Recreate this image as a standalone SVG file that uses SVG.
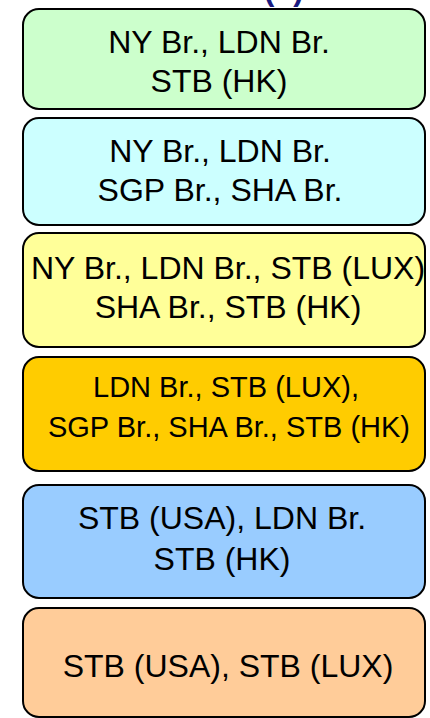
<svg xmlns="http://www.w3.org/2000/svg" width="430" height="718" viewBox="0 0 430 718">
  <style>
    .box { stroke: #000; stroke-width: 2; }
    .t { font-family: "Liberation Sans", Arial, sans-serif; font-size: 32px; fill: #000; text-anchor: middle; }
    .s { font-size: 29px; }
    .title { font-family: "Liberation Sans", Arial, sans-serif; font-size: 31px; font-weight: bold; fill: #1a1a80; }
  </style>
  <rect width="430" height="718" fill="#ffffff"/>
  <text class="title" x="264" y="0">(b)</text>
  <g id="node1">
    <rect class="box" x="23" y="9" width="402" height="100" rx="16" fill="#ccffcc"/>
    <text class="t" x="219" y="53">NY Br., LDN Br.</text>
    <text class="t" x="219" y="92">STB (HK)</text>
  </g>
  <g id="node2">
    <rect class="box" x="23" y="118" width="402" height="107" rx="16" fill="#ccffff"/>
    <text class="t" x="220" y="162">NY Br., LDN Br.</text>
    <text class="t" x="220" y="201">SGP Br., SHA Br.</text>
  </g>
  <g id="node3">
    <rect class="box" x="23" y="233" width="402" height="114" rx="16" fill="#ffff99"/>
    <text class="t" x="228" y="279">NY Br., LDN Br., STB (LUX)</text>
    <text class="t" x="228" y="318">SHA Br., STB (HK)</text>
  </g>
  <g id="node4">
    <rect class="box" x="23" y="357" width="402" height="114" rx="16" fill="#ffcc00"/>
    <text class="t s" x="226" y="397">LDN Br., STB (LUX),</text>
    <text class="t s" x="229" y="437">SGP Br., SHA Br., STB (HK)</text>
  </g>
  <g id="node5">
    <rect class="box" x="23" y="485" width="402" height="113" rx="16" fill="#99ccff"/>
    <text class="t" x="222" y="529">STB (USA), LDN Br.</text>
    <text class="t" x="222" y="570">STB (HK)</text>
  </g>
  <g id="node6">
    <rect class="box" x="23" y="608" width="402" height="109" rx="16" fill="#ffcc99"/>
    <text class="t" x="228" y="677">STB (USA), STB (LUX)</text>
  </g>
  <g id="connectors"></g>
</svg>
